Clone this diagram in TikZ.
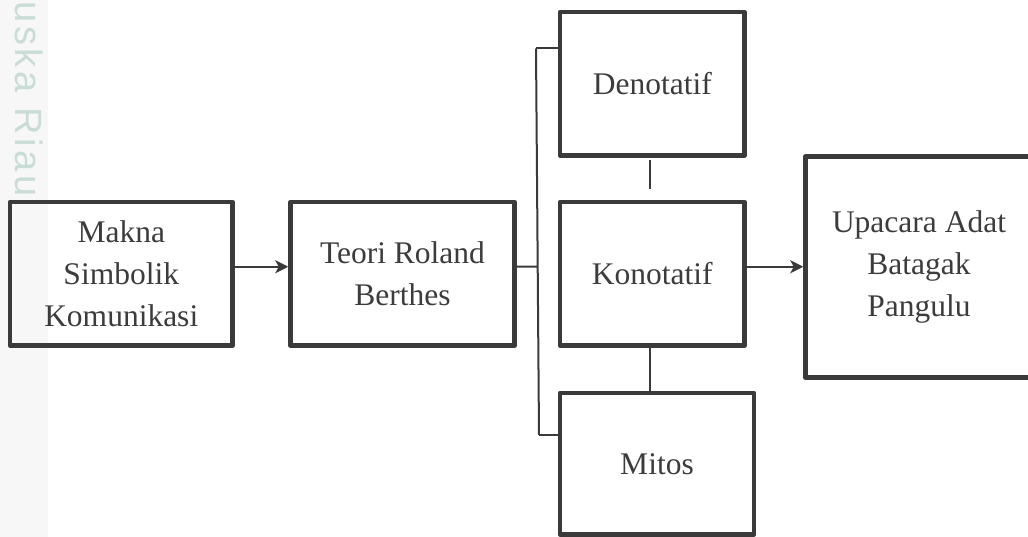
\documentclass[tikz,border=0pt]{standalone}
\usepackage{fontspec}
\setmainfont{Liberation Serif}
\newfontfamily\wmfont[LetterSpace=10]{Liberation Sans}
\usetikzlibrary{arrows.meta,calc}
\definecolor{ink}{HTML}{3A3A3A}
\definecolor{txt}{HTML}{3C3C3C}
\definecolor{wmcol}{HTML}{C8DDD6}
\definecolor{stripcol}{HTML}{F7F7F7}
\begin{document}
\begin{tikzpicture}[x=1pt,y=-1pt,
  box/.style={draw=ink, line width=4.5pt, line join=round, inner sep=0pt, align=center, text=txt, font=\fontsize{31.5}{42}\selectfont},
  conn/.style={draw=ink, line width=2pt},
  arr/.style={conn, -{Stealth[length=13pt,width=13pt,inset=3.5pt]}}]
\useasboundingbox (0,0) rectangle (1028,537);
\fill[stripcol] (0,0) rectangle (48,537);
\node[font=\wmfont\fontsize{38}{38}\selectfont, text=wmcol, rotate=-90, anchor=base west, inner sep=0pt] (wm) at (15,1) {uska Riau};

\node[box, minimum width=222.5pt, minimum height=143.5pt] (makna) at (121.25,273.75) {Makna\\Simbolik\\Komunikasi};
\node[box, minimum width=224pt, minimum height=143.5pt] (teori) at (402.5,273.75) {Teori Roland\\Berthes};
\node[box, minimum width=184.5pt, minimum height=143.5pt] (den) at (652.25,83.75) {Denotatif};
\node[box, minimum width=184.5pt, minimum height=143.5pt] (kon) at (652.25,273.75) {Konotatif};
\node[box, minimum width=194pt, minimum height=141.5pt] (mitos) at (657,463.75) {Mitos};
\node[box, minimum width=227pt, minimum height=221pt] (upa) at (919,267) {Upacara Adat\\Batagak\\Pangulu};

\coordinate (bt) at (536,48.5);
\coordinate (bm) at (537.4,266.7);
\coordinate (bb) at (539,435);

\draw[arr] ([yshift=7pt]makna.east) -- ([yshift=7pt]teori.west);
\draw[conn] ([yshift=7pt]teori.east) -- (bm);
\draw[conn] (bt) -- (bb);
\draw[conn] (bt) -- (bt -| den.west);
\draw[conn] (bb) -- (bb -| mitos.west);
\draw[conn] ([xshift=-2.25pt,yshift=-2.25pt]den.south) -- ([xshift=-2.25pt,yshift=10.75pt]kon.north);
\draw[conn] ([xshift=-2.25pt]kon.south) -- ([xshift=-2.25pt]kon.south |- mitos.north);
\draw[arr] ([yshift=7pt]kon.east) -- ([yshift=7pt]kon.east -| upa.west);
\end{tikzpicture}
\end{document}
